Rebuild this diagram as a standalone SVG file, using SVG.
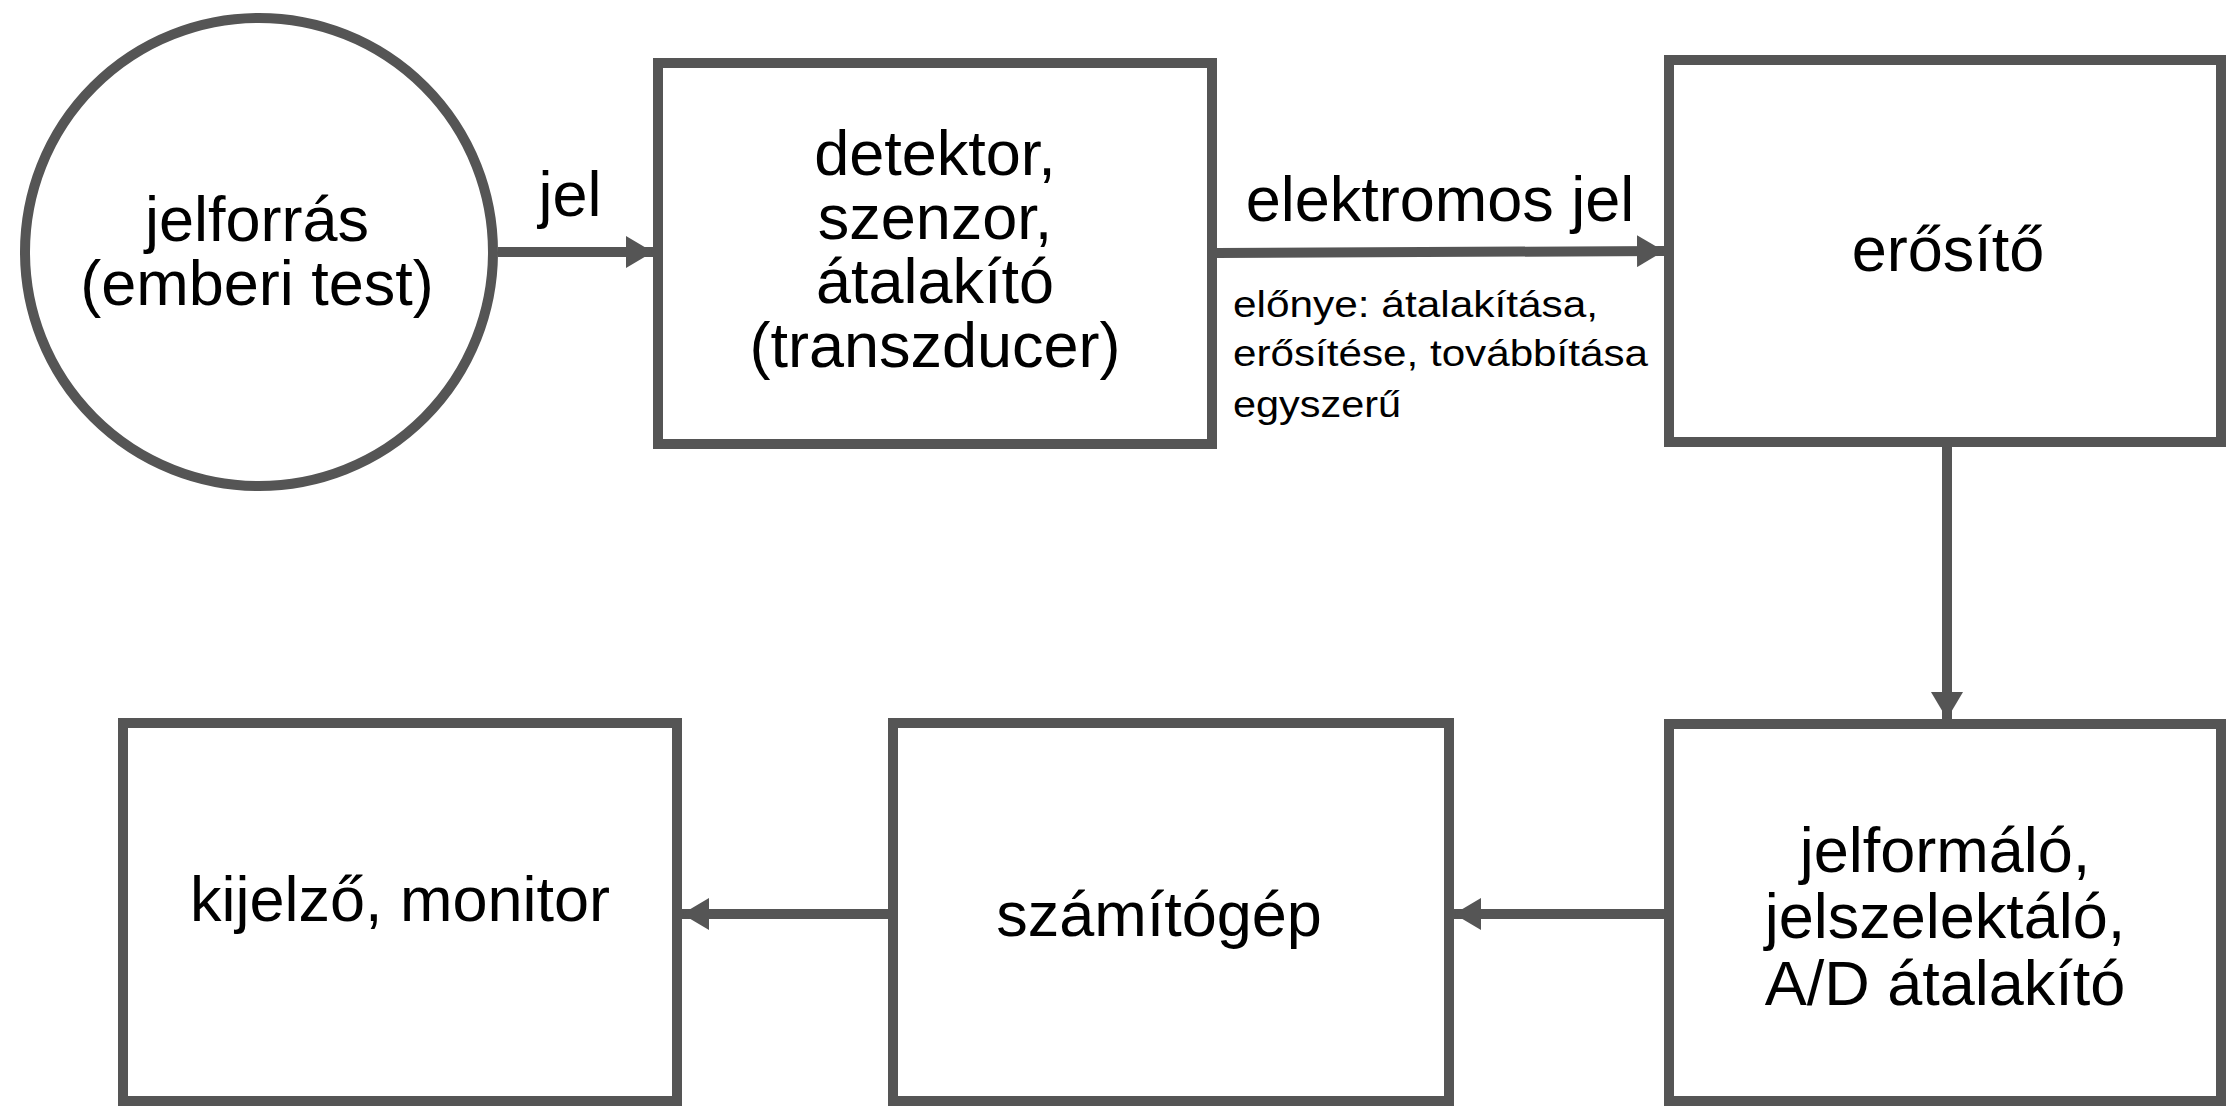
<svg xmlns="http://www.w3.org/2000/svg" width="2226" height="1106" viewBox="0 0 2226 1106">
<style>
.n{fill:#ffffff;stroke:#555555;stroke-width:10}
.c{fill:none;stroke:#555555;stroke-width:10}
.t{font-family:"Liberation Sans",Arial,sans-serif;font-size:63px;fill:#000000;text-anchor:middle}
.s{font-family:"Liberation Sans",Arial,sans-serif;font-size:36px;fill:#000000}
</style>
<defs>
<marker id="ah" markerUnits="userSpaceOnUse" markerWidth="28" markerHeight="32" refX="27" refY="16" orient="auto">
<path d="M0,0 L27,16 L0,32 Z" fill="#555555"/>
</marker>
</defs>
<rect x="0" y="0" width="2226" height="1106" fill="#ffffff"/>
<g id="connectors">
<line class="c" x1="498" y1="252" x2="653" y2="252" marker-end="url(#ah)"/>
<line class="c" x1="1217" y1="253" x2="1664" y2="251" marker-end="url(#ah)"/>
<line class="c" x1="1947" y1="447" x2="1947" y2="719" marker-end="url(#ah)"/>
<line class="c" x1="1664" y1="914" x2="1454" y2="914" marker-end="url(#ah)"/>
<line class="c" x1="888" y1="914" x2="682" y2="914" marker-end="url(#ah)"/>
<text class="t" x="570" y="216">jel</text>
<text class="t" x="1440" y="221">elektromos jel</text>
<text class="s" x="1233" y="317" textLength="365" lengthAdjust="spacingAndGlyphs">előnye: átalakítása,</text>
<text class="s" x="1233" y="366" textLength="415" lengthAdjust="spacingAndGlyphs">erősítése, továbbítása</text>
<text class="s" x="1233" y="417" textLength="168" lengthAdjust="spacingAndGlyphs">egyszerű</text>
</g>
<g id="jelforras">
<circle class="n" cx="259" cy="252" r="234"/>
<text class="t" x="257" y="241">jelforrás</text>
<text class="t" x="257" y="305">(emberi test)</text>
</g>
<g id="detektor">
<rect class="n" x="658" y="63" width="554" height="381"/>
<text class="t" x="935" y="175">detektor,</text>
<text class="t" x="935" y="239">szenzor,</text>
<text class="t" x="935" y="303">átalakító</text>
<text class="t" x="935" y="367">(transzducer)</text>
</g>
<g id="erosito">
<rect class="n" x="1669" y="60" width="552" height="382"/>
<text class="t" x="1948" y="271">erősítő</text>
</g>
<g id="jelformalo">
<rect class="n" x="1669" y="724" width="552" height="377"/>
<text class="t" x="1945" y="872">jelformáló,</text>
<text class="t" x="1945" y="938">jelszelektáló,</text>
<text class="t" x="1945" y="1005">A/D átalakító</text>
</g>
<g id="szamitogep">
<rect class="n" x="893" y="723" width="556" height="378"/>
<text class="t" x="1159" y="936">számítógép</text>
</g>
<g id="kijelzo">
<rect class="n" x="123" y="723" width="554" height="378"/>
<text class="t" x="400" y="921">kijelző, monitor</text>
</g>
</svg>
